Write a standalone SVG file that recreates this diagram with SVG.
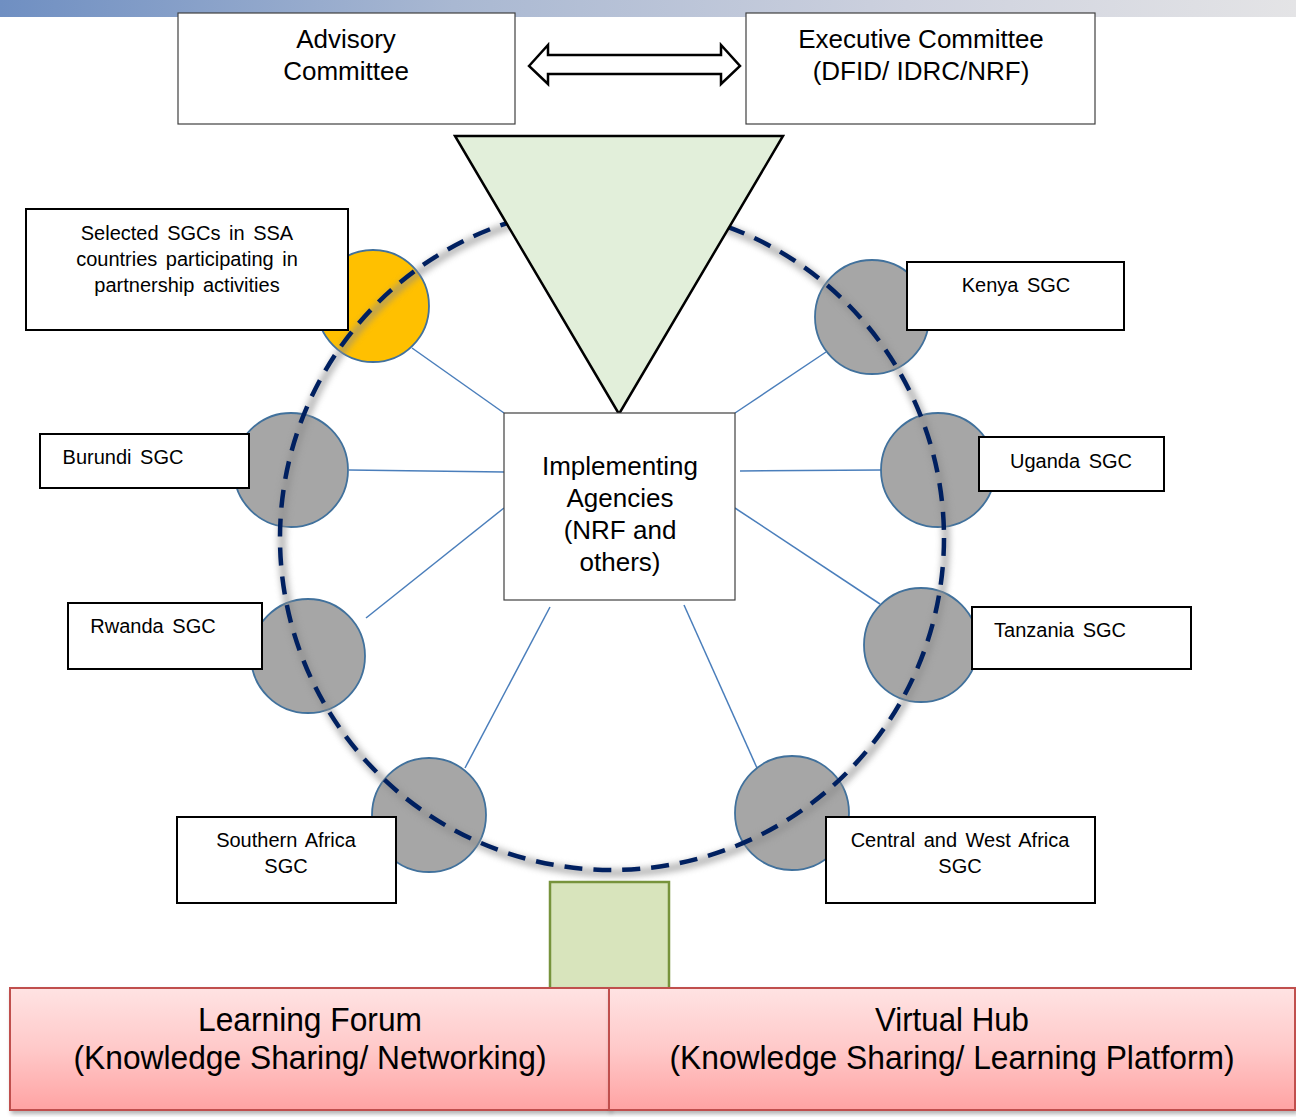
<svg xmlns="http://www.w3.org/2000/svg" width="1296" height="1117" viewBox="0 0 1296 1117">
<defs>
  <linearGradient id="band" x1="0" y1="0" x2="1" y2="0">
    <stop offset="0" stop-color="#6f8fc2"/>
    <stop offset="0.35" stop-color="#a9b8d2"/>
    <stop offset="0.7" stop-color="#cdd1de"/>
    <stop offset="1" stop-color="#e4e4e6"/>
  </linearGradient>
  <linearGradient id="pink" x1="0" y1="0" x2="0" y2="1">
    <stop offset="0" stop-color="#ffe3e3"/>
    <stop offset="0.5" stop-color="#ffc9c9"/>
    <stop offset="1" stop-color="#ffa3a3"/>
  </linearGradient>
  <filter id="blur" x="-10%" y="-10%" width="120%" height="120%">
    <feGaussianBlur stdDeviation="3"/>
  </filter>
  <filter id="shadow" x="-5%" y="-20%" width="110%" height="140%">
    <feDropShadow dx="2" dy="3" stdDeviation="2" flood-color="#000" flood-opacity="0.3"/>
  </filter>
  <style>
    .box{fill:#fff;stroke:#000;stroke-width:2}
    .tbox{fill:#fff;stroke:#404040;stroke-width:1.2}
    .sgc{fill:#a6a6a6;stroke:#41719c;stroke-width:1.8}
    .link{stroke:#4a7ebb;stroke-width:1.5;fill:none}
    .t{font-family:"Liberation Sans",Arial,sans-serif;fill:#000;text-anchor:middle}
    .s{font-size:20px;word-spacing:3px}
    .m{font-size:26px}
    .b{font-size:34px}
  </style>
</defs>
<rect x="0" y="0" width="1296" height="1117" fill="#fff"/>
<rect x="0" y="0" width="1296" height="17" fill="url(#band)"/>

<g id="connectors">
  <line class="link" x1="412" y1="348" x2="504" y2="413"/>
  <line class="link" x1="349" y1="470" x2="504" y2="472"/>
  <line class="link" x1="366" y1="618" x2="504" y2="508"/>
  <line class="link" x1="465" y1="768" x2="550" y2="607"/>
  <line class="link" x1="826" y1="352" x2="735" y2="413"/>
  <line class="link" x1="740" y1="471" x2="881" y2="470"/>
  <line class="link" x1="735" y1="508" x2="880" y2="604"/>
  <line class="link" x1="684" y1="605" x2="757" y2="768"/>
  <path id="double-arrow" d="M529,66 L548,45 L548,55 L721,55 L721,45 L740,66 L721,84 L721,74 L548,74 L548,84 Z" fill="#fff" stroke="#000" stroke-width="2.5" stroke-linejoin="miter"/>
</g>

<g id="circles">
  <circle id="sgc-selected" cx="373" cy="306" r="56" fill="#ffc000" stroke="#41719c" stroke-width="1.8"/>
  <circle id="sgc-kenya" class="sgc" cx="872" cy="317" r="57"/>
  <circle id="sgc-uganda" class="sgc" cx="938" cy="470" r="57"/>
  <circle id="sgc-tanzania" class="sgc" cx="921" cy="645" r="57"/>
  <circle id="sgc-cwa" class="sgc" cx="792" cy="813" r="57"/>
  <circle id="sgc-southern" class="sgc" cx="429" cy="815" r="57"/>
  <circle id="sgc-rwanda" class="sgc" cx="308" cy="656" r="57"/>
  <circle id="sgc-burundi" class="sgc" cx="291" cy="470" r="57"/>
</g>

<g id="ring">
  <circle cx="614" cy="541" r="332" fill="none" stroke="#8c8c8c" stroke-width="8" opacity="0.6" filter="url(#blur)"/>
  <circle cx="612" cy="538" r="332" fill="none" stroke="#002060" stroke-width="4.5" stroke-dasharray="18 11"/>
</g>

<g id="advisory">
  <rect class="tbox" x="178" y="13" width="337" height="111"/>
  <text class="t m" x="346" y="48">Advisory</text>
  <text class="t m" x="346" y="80">Committee</text>
</g>
<g id="executive">
  <rect class="tbox" x="746" y="13" width="349" height="111"/>
  <text class="t m" x="921" y="48">Executive Committee</text>
  <text class="t m" x="921" y="80">(DFID/ IDRC/NRF)</text>
</g>

<g id="selected">
  <rect class="box" x="26" y="209" width="322" height="121"/>
  <text class="t s" x="187" y="240">Selected SGCs in SSA</text>
  <text class="t s" x="187" y="266">countries participating in</text>
  <text class="t s" x="187" y="292">partnership activities</text>
</g>
<g id="kenya">
  <rect class="box" x="907" y="262" width="217" height="68"/>
  <text class="t s" x="1016" y="292">Kenya SGC</text>
</g>
<g id="burundi">
  <rect class="box" x="40" y="434" width="209" height="54"/>
  <text class="t s" x="123" y="464">Burundi SGC</text>
</g>
<g id="uganda">
  <rect class="box" x="979" y="437" width="185" height="54"/>
  <text class="t s" x="1071" y="468">Uganda SGC</text>
</g>
<g id="rwanda">
  <rect class="box" x="68" y="603" width="194" height="66"/>
  <text class="t s" x="153" y="633">Rwanda SGC</text>
</g>
<g id="tanzania">
  <rect class="box" x="972" y="607" width="219" height="62"/>
  <text class="t s" x="1060" y="637">Tanzania SGC</text>
</g>
<g id="southern">
  <rect class="box" x="177" y="817" width="219" height="86"/>
  <text class="t s" x="286" y="847">Southern Africa</text>
  <text class="t s" x="286" y="873">SGC</text>
</g>
<g id="cwa">
  <rect class="box" x="826" y="817" width="269" height="86"/>
  <text class="t s" x="960" y="847">Central and West Africa</text>
  <text class="t s" x="960" y="873">SGC</text>
</g>

<g id="triangle">
  <polygon points="455,136 783,136 619,414" fill="#e2efda" stroke="#000" stroke-width="2.5" stroke-linejoin="miter"/>
</g>

<g id="implementing">
  <rect class="tbox" x="504" y="413" width="231" height="187"/>
  <text class="t m" x="620" y="475">Implementing</text>
  <text class="t m" x="620" y="507">Agencies</text>
  <text class="t m" x="620" y="539">(NRF and</text>
  <text class="t m" x="620" y="571">others)</text>
</g>

<g id="green-square">
  <rect x="550" y="882" width="119" height="108" fill="#d8e4bc" stroke="#77933c" stroke-width="2.5"/>
</g>

<g id="learning-forum">
  <rect x="10" y="988" width="599" height="122" fill="url(#pink)" stroke="#c0504d" stroke-width="2" filter="url(#shadow)"/>
  <text class="t b" x="310" y="1031" textLength="224" lengthAdjust="spacingAndGlyphs">Learning Forum</text>
  <text class="t b" x="310" y="1069" textLength="473" lengthAdjust="spacingAndGlyphs">(Knowledge Sharing/ Networking)</text>
</g>
<g id="virtual-hub">
  <rect x="609" y="988" width="686" height="122" fill="url(#pink)" stroke="#c0504d" stroke-width="2" filter="url(#shadow)"/>
  <text class="t b" x="952" y="1031" textLength="154" lengthAdjust="spacingAndGlyphs">Virtual Hub</text>
  <text class="t b" x="952" y="1069" textLength="565" lengthAdjust="spacingAndGlyphs">(Knowledge Sharing/ Learning Platform)</text>
</g>
</svg>
